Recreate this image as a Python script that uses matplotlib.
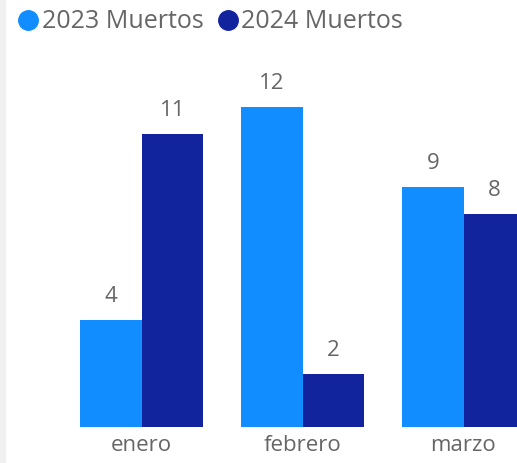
import matplotlib
matplotlib.use("Agg")
import matplotlib.pyplot as plt
from matplotlib.patches import Rectangle
import numpy as np

categories = ["enero", "febrero", "marzo"]
series_names = ["2023 Muertos", "2024 Muertos"]
values_2023 = [4, 12, 9]
values_2024 = [11, 2, 8]
colors = ["#118DFF", "#12239E"]
text_color = "#666666"

plt.rcParams['font.family'] = ['Open Sans', 'DejaVu Sans']

W, H = 517, 464
fig = plt.figure(figsize=(W / 100, H / 100), dpi=100)
fig.patch.set_facecolor("white")

# left grey strip
fig.patches.append(Rectangle((0, 0), 5 / W, 1, transform=fig.transFigure,
                             color="#F0F0F0", zorder=0))

ax = fig.add_axes([0, 36 / H, 1, 368 / H])
x = np.arange(len(categories))
bw = 61.5 / 161
b1 = ax.bar(x - bw / 2, values_2023, bw, color=colors[0])
b2 = ax.bar(x + bw / 2, values_2024, bw, color=colors[1])
for bars in (b1, b2):
    for r in bars:
        ax.annotate(f"{int(r.get_height())}",
                    (r.get_x() + r.get_width() / 2, r.get_height()),
                    xytext=(0, 10), textcoords="offset points",
                    ha="center", va="bottom", fontsize=16, color=text_color)

ax.set_xlim(-141.5 / 161, (517 - 141.5) / 161)
ax.set_ylim(0, 368 / 26.67)
ax.set_xticks(x)
ax.set_xticklabels(categories, fontsize=16, color=text_color)
ax.tick_params(axis="x", length=0, pad=5)
ax.set_yticks([])
for s in ax.spines.values():
    s.set_visible(False)
ax.patch.set_alpha(0)

# legend
leg_y = 1 - 21 / H
for cx, tx, name, c in [(28, 42, series_names[0], colors[0]),
                        (228, 241, series_names[1], colors[1])]:
    fig.add_artist(plt.Line2D([cx / W], [leg_y], marker="o", markersize=14,
                              color=c, transform=fig.transFigure))
    fig.text(tx / W, leg_y, name, fontsize=18, color=text_color,
             ha="left", va="center")

fig.savefig("out.png", dpi=100)
